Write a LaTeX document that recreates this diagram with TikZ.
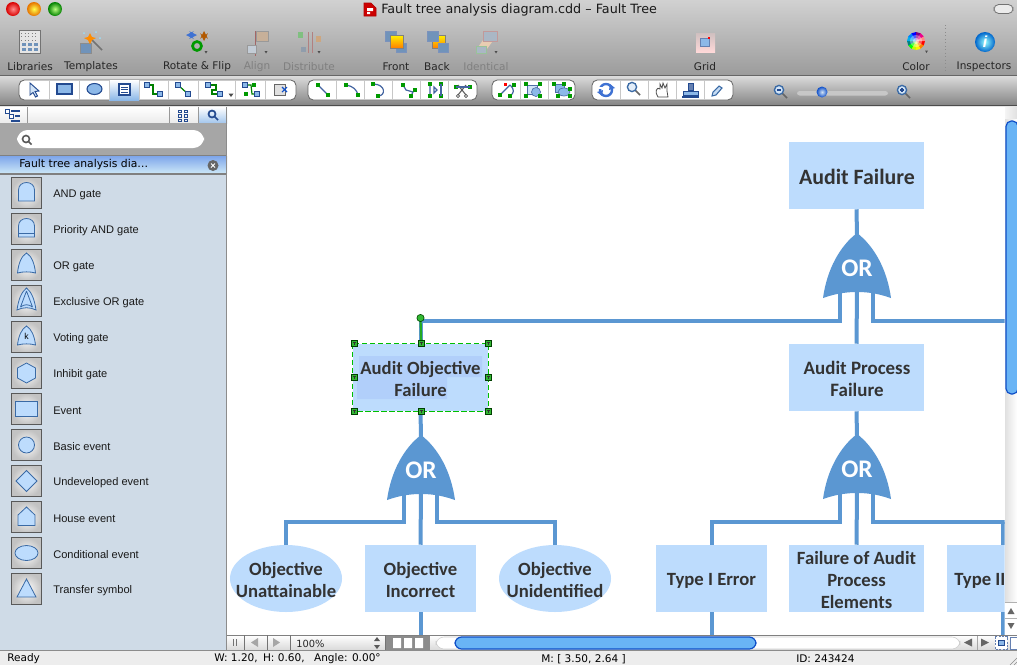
\documentclass[tikz,border=0pt]{standalone}
\usepackage{fontspec}
\usetikzlibrary{shapes.geometric}
\setmainfont{DejaVu Sans}
\newfontfamily\uifont{DejaVu Sans}
\newfontfamily\libfont{Liberation Sans}
\newfontfamily\dgfont{Carlito}
\definecolor{evtblue}{HTML}{BDDCFD}
\definecolor{evtpatch}{HTML}{B1CFFA}
\definecolor{gateblue}{HTML}{5B97D2}
\definecolor{inktext}{HTML}{333333}
\definecolor{icline}{HTML}{3A6AA5}
\definecolor{panelbg}{HTML}{CFDBE7}
\definecolor{navy}{HTML}{234A90}
\definecolor{midblue}{HTML}{8CB8E8}
\definecolor{sgreen}{HTML}{22AA22}
\definecolor{thumbblue}{HTML}{69B4F5}
\definecolor{thumblight}{HTML}{B4E0FF}
\definecolor{thumbdark}{HTML}{0F4FC8}
\tikzset{
  evtbox/.style={fill=evtblue,inner sep=0pt,minimum height=50.25pt},
  widebox/.style={evtbox,minimum width=101.25pt},
  narrowbox/.style={evtbox,minimum width=83.25pt},
  ovalbox/.style={evtbox,ellipse,minimum width=84pt},
  evttext/.style={inner sep=0pt,align=center,text=inktext,font=\dgfont\bfseries\fontsize{14pt}{16.5pt}\selectfont},
  conn/.style={draw=gateblue,line width=3pt},
  orgatefill/.style={fill=gateblue},
  orlabel/.style={text=white,inner sep=0pt,font=\dgfont\bfseries\fontsize{19pt}{19pt}\selectfont},
  toollabel/.style={inner sep=0pt,text=black!85,font=\uifont\fontsize{7.9pt}{9pt}\selectfont},
  greylabel/.style={toollabel,text=black!50},
  statuslabel/.style={inner sep=0pt,anchor=west,text=black,font=\uifont\fontsize{7.9pt}{9pt}\selectfont},
  liblabel/.style={inner sep=0pt,anchor=west,text=black!90,font=\libfont\fontsize{8.3pt}{10pt}\selectfont},
  btn/.style={draw=black!65,line width=0.8pt,inner color=white,outer color=black!24,minimum width=22.5pt,minimum height=23.5pt,inner sep=0pt},
  ic/.style={draw=icline,fill=evtblue,line width=0.6pt},
  icl/.style={draw=icline,line width=0.6pt},
  tbgroup/.style={draw=black!60,line width=0.6pt,fill=white,rounded corners=4pt},
  tbsep/.style={draw=black!22,line width=0.5pt},
  gline/.style={draw=green!50!black,line width=0.9pt},
  bline/.style={draw=navy!85,line width=0.9pt},
  handle/.style={draw=green!25!black,fill=green!65!black!80,line width=0.6pt},
}
\newcommand\orgate[3]{%
  \begin{scope}[shift={(#2,#3)}]
    \fill[orgatefill] (0,0) .. controls (17,13) and (30,36) .. (34,65)
      .. controls (20,60) and (9,59) .. (0,59)
      .. controls (-9,59) and (-20,60) .. (-34,65)
      .. controls (-30,36) and (-17,13) .. (0,0) -- cycle;
    \coordinate (#1t) at (0,2);
    \coordinate (#1l) at (-17,58);
    \coordinate (#1c) at (0,58);
    \coordinate (#1r) at (16,58);
    \node[orlabel] (#1) at (0,35.5) {OR};
  \end{scope}}
\newcommand\libitem[4]{%
  \node[btn] (btn#1) at (26.5,#2-1) {};
  \begin{scope}[shift={(26.5,#2-1)}]#4\end{scope}
  \node[liblabel] (lab#1) at (53,#2+0.8) {#3};}
\newcommand\bsq[2]{\filldraw[fill=midblue,draw=navy,line width=0.5pt] (#1-2.3,#2-2.3) rectangle (#1+2.3,#2+2.3);}
\newcommand\gsq[2]{\fill[green!60!black] (#1-1.8,#2-1.8) rectangle (#1+1.8,#2+1.8);}
\newcommand\selhandle[2]{\filldraw[handle] (#1-3,#2-3) rectangle (#1+3,#2+3);
  \draw[black!80,line width=0.4pt] (#1-1.5,#2-1.3) -- (#1+1.5,#2-1.3) (#1,#2-1.3) -- (#1,#2+1.6);}
\newcommand\magn[3]{\draw[black!60,line width=1.2pt] (#1+3,#2+3) -- (#1+8,#2+8);
  \filldraw[fill=#3,draw=icline,line width=1pt] (#1,#2) circle (4.6);}
\begin{document}
\begin{tikzpicture}[x=0.75pt,y=-0.75pt]
\useasboundingbox (0,0) rectangle (1017,665);
% ---- chrome backgrounds
\shade[top color=black!18,bottom color=black!39] (0,0) rectangle (1017,75);
\fill[black!60] (0,74.5) rectangle (1017,76);
\shade[top color=black!14,bottom color=black!48] (0,76) rectangle (1017,105);
\fill[black!70] (0,105) rectangle (1017,106);
\fill[black!10] (0,106) rectangle (1017,107);
\fill[white] (227,107) rectangle (1005,635);
% ---- window controls
\shade[inner color=red!45,outer color=red!85!black] (13,9) circle (7);
\shade[inner color=yellow!70,outer color=orange!90!black] (34,9) circle (7);
\shade[inner color=green!55!yellow!50,outer color=green!50!black] (55,9) circle (7);
\filldraw[fill=black!8,draw=black!55,rounded corners=3.5pt,line width=0.6pt] (994,4.5) rectangle (1013,13.5);
% title
\filldraw[fill=red!80!black,draw=red!70!black] (364,3) -- (371,3) -- (376,8) -- (376,16) -- (364,16) -- cycle;
\fill[white] (367,8) rectangle (373,11) (367,12) rectangle (370,14);
\node[inner sep=0pt,anchor=west,text=black!90,font=\uifont\fontsize{9.55pt}{11pt}\selectfont] (wintitle) at (381,9.5) {Fault tree analysis diagram.cdd – Fault Tree};
% ---- top toolbar icons
% libraries
\filldraw[fill=black!10,draw=black!55,line width=0.5pt] (19,30) rectangle (40,53);
\foreach \yy in {33,36.5,40}{\draw[black!50,line width=0.7pt,dotted] (21,\yy) -- (38,\yy);}
\foreach \xx in {22,28,34}{\foreach \yy in {43,48}{\fill[midblue!80!black] (\xx,\yy-0.5) rectangle (\xx+4,\yy+3);}}
% templates
\filldraw[fill=midblue!80!black,draw=black!45,line width=0.5pt] (80,43) rectangle (91,53);
\draw[black!55,line width=1.3pt] (92,40) -- (102,50);
\fill[orange!90!yellow] (90,33) -- (92,37) -- (96,38) -- (92,40) -- (90,44) -- (88,40) -- (84,38) -- (88,37) -- cycle;
\fill[cyan!40] (96,32) circle (1) (100,38) circle (1) (84,33) circle (1);
% rotate & flip
\draw[thumbdark!80,line width=1.5pt,<->,>=stealth] (186,35) -- (197,35);
\draw[orange!70!black,line width=1.5pt,<->,>=stealth] (204,31) -- (204,41);
\draw[green!60!black,line width=2pt] (197,46) circle (4.5);
% align
\draw[red!40!black!60,line width=0.5pt] (255.5,31) -- (255.5,56);
\filldraw[fill=orange!45!black!40!white,draw=black!40,line width=0.4pt] (256,31) rectangle (268,41);
\filldraw[fill=midblue!60!black!35!white,draw=black!40,line width=0.4pt] (247,45) rectangle (256,53);
% distribute
\draw[red!40!black!50,line width=0.5pt] (308,32) -- (308,53) (312,32) -- (312,53);
\fill[green!50!black!50!white] (298,32) rectangle (303,38);
\fill[orange!60!black!50!white] (316,36) rectangle (321,42);
\fill[midblue!50!black!60!white] (301,47) rectangle (306,52);
% front
\filldraw[fill=midblue!80!black,draw=navy!60,line width=0.5pt] (385,31) rectangle (396,41);
\filldraw[fill=midblue!80!black,draw=navy!60,line width=0.5pt] (396,43) rectangle (406,52);
\filldraw[top color=yellow!90!orange,bottom color=orange,draw=black!50,line width=0.5pt] (390,35) rectangle (403,48);
% back
\filldraw[top color=yellow!90!orange,bottom color=orange,draw=black!50,line width=0.5pt] (432,35) rectangle (445,48);
\filldraw[fill=midblue!80!black,draw=navy!60,line width=0.5pt] (427,31) rectangle (438,41);
\filldraw[fill=midblue!80!black,draw=navy!60,line width=0.5pt] (438,43) rectangle (448,52);
% identical
\fill[orange!30,opacity=.7] (476,50) -- (486,36) -- (495,38) -- (484,53) -- cycle;
\filldraw[fill=midblue!60!black!50!white,draw=red!40!black!40,line width=0.5pt] (483,31) rectangle (497,41);
\filldraw[fill=midblue!60!black!50!white,draw=green!40!black!40,line width=0.5pt] (476,46) rectangle (486,53);
% grid
\shade[top color=red!25!black!25,bottom color=red!15] (696,33) rectangle (715,52);
\filldraw[fill=midblue,draw=navy!70,line width=0.4pt] (700,38) rectangle (709,46);
\fill[red] (708,37) rectangle (710,39);
% colour wheel
\begin{scope}[shift={(916,41)}]
 \foreach \a/\c in {0/red,30/orange,60/yellow,90/lime,120/green,150/teal,180/cyan,210/blue!50!cyan,240/blue,270/violet,300/magenta,330/pink!70!red}{
   \fill[\c] (0,0) -- (\a:9) -- (\a+31:9) -- cycle;}
 \fill[white,opacity=.35] (0,0) circle (6);
 \fill[white,opacity=.5] (0,0) circle (3);
\end{scope}
\fill[black!70] (925,50.5) -- (928,50.5) -- (926.5,53) -- cycle;
\draw[black!45,dotted,line width=0.6pt] (945,25) -- (945,71);
% inspectors
\shade[inner color=cyan!40,outer color=blue!50!cyan!80!black] (985,42) circle (10);
\node[inner sep=0pt,text=white,font=\libfont\bfseries\itshape\fontsize{12pt}{12pt}\selectfont] (infoi) at (985,42) {i};
% triangles under popups
\foreach \xx in {206,266,319,496}{\fill[black!70] (\xx-1.5,51) -- (\xx+1.5,51) -- (\xx,53.5) -- cycle;}
% labels
\node[toollabel] (tLibraries) at (30,67) {Libraries};
\node[toollabel] (tTemplates) at (91,67) {Templates};
\node[toollabel] (tRotate) at (197,67) {Rotate \& Flip};
\node[greylabel] (tAlign) at (257,67) {Align};
\node[greylabel] (tDistribute) at (309,67) {Distribute};
\node[toollabel] (tFront) at (396,67) {Front};
\node[toollabel] (tBack) at (437,67) {Back};
\node[greylabel] (tIdentical) at (486,67) {Identical};
\node[toollabel] (tGrid) at (705,67) {Grid};
\node[toollabel] (tColor) at (916,67) {Color};
\node[toollabel] (tInspectors) at (984,67) {Inspectors};
% ---- second toolbar
\draw[tbgroup] (19,80) rectangle (296,100);
\shade[top color=white,bottom color=midblue] (109,80) rectangle (139,100);
\foreach \xx in {49,79,109,139,168,198,235,265}{\draw[tbsep] (\xx,80) -- (\xx,100);}
\draw[tbgroup] (308,80) rectangle (477,100);
\foreach \xx in {336,364,392,420,448}{\draw[tbsep] (\xx,80) -- (\xx,100);}
\draw[tbgroup] (492,80) rectangle (575,100);
\foreach \xx in {520,548}{\draw[tbsep] (\xx,80) -- (\xx,100);}
\draw[tbgroup] (592,80) rectangle (733,100);
\foreach \xx in {620,648,676,704}{\draw[tbsep] (\xx,80) -- (\xx,100);}
% group 1 icons
\filldraw[fill=midblue!40,draw=navy,line width=0.7pt] (30,83) -- (30,95) -- (33,92.5) -- (35.5,97) -- (37.5,96) -- (35,91.5) -- (39,91) -- cycle;
\filldraw[fill=midblue,draw=navy,line width=0.8pt] (57,84) rectangle (72,94);
\filldraw[fill=midblue,draw=navy,line width=0.8pt] (94.5,89) ellipse (7.5 and 5.5);
\filldraw[fill=white,draw=navy,line width=0.8pt] (119,84) rectangle (130,95);
\foreach \yy in {87,89.5,92}{\draw[navy,line width=0.5pt] (121,\yy) -- (128,\yy);}
\draw[gline] (148,85) -| (153,94) -- (159,94);\bsq{147}{85}\bsq{160}{94}
\draw[gline] (178,85) -- (188,94);\bsq{178}{85}\bsq{188}{94}
\draw[gline] (208,85) -- (216,85) -- (216,90) -- (212,90) -- (212,94) -- (220,94);\bsq{208}{85}\bsq{220}{94}
\fill[black!70] (228.5,93.5) -- (233.5,93.5) -- (231,97) -- cycle;
\draw[gline] (246,85) -- (251,85) -- (252,94) -- (257,94);\bsq{245}{85}\bsq{257}{94}\gsq{254}{85}\gsq{246}{94}
\filldraw[fill=black!12,draw=black!60,line width=0.6pt] (274,84) rectangle (285,95);
\draw[thumbdark,line width=0.8pt] (282,87) -- (287,92) (287,87) -- (282,92);
% group 2 icons
\draw[bline] (318,85) -- (328,95);\gsq{318}{85}\gsq{328}{95}
\draw[bline] (346,85) .. controls (353,86) and (357,90) .. (358,95);\gsq{346}{85}\gsq{358}{95}
\draw[bline] (373,84) .. controls (386,84) and (386,96) .. (378,96);\gsq{373}{84}\gsq{378}{96}
\draw[bline] (403,85) -- (406,90) -- (413,92) -- (411,96);\gsq{403}{85}\gsq{411}{96}\gsq{415}{90}
\draw[bline] (430,84) -- (430,96) (434,87) -- (437,90) -- (434,93) -- cycle;\gsq{430}{84}\gsq{430}{96}\gsq{441}{84}\gsq{441}{96}\draw[bline] (441,84) -- (441,96);
\draw[black!65,line width=0.8pt] (458,85) -- (466,95) (466,85) -- (458,95);\draw[black!65,line width=0.6pt] (458,96) circle (1.6) (466,96) circle (1.6);\gsq{456}{87}\gsq{470}{87}\draw[bline] (456,87) -- (470,87);
% group 3 icons
\draw[bline] (500,95) -- (510,85);\draw[bline] (510,85) .. controls (515,90) and (514,93) .. (510,96);\gsq{500}{95}\fill[red] (504,83) rectangle (507,86);\gsq{510}{96}\gsq{514}{85}
\filldraw[fill=midblue!40,draw=navy!80,line width=0.5pt] (527,85) rectangle (537,94);\filldraw[fill=midblue,draw=navy!80,line width=0.5pt] (536,92) circle (4.5);
\gsq{526}{84}\gsq{540}{84}\gsq{526}{96}\gsq{540}{96}
\filldraw[fill=midblue,draw=navy!80,line width=0.5pt] (555,84) rectangle (564,92);\filldraw[fill=midblue,draw=navy!80,line width=0.5pt] (564,92) ellipse (6 and 4);
\gsq{554}{84}\gsq{564}{84}\gsq{570}{89}\gsq{570}{96}\gsq{558}{96}
% group 4 icons
\draw[thumbdark!80,line width=1.8pt] (606,90) circle (6);
\fill[white] (598,87) rectangle (614,89);\fill[thumbdark!80] (610,84) -- (615,88) -- (609,90) -- cycle (602,96) -- (597,92) -- (603,90) -- cycle;
\magn{632}{87}{midblue!25}
\draw[black!70,fill=white,line width=0.6pt] (658,97) .. controls (654,92) and (657,86) .. (660,89) -- (660,84) -- (662,88) -- (663,83) -- (665,88) -- (667,84) -- (667,91) -- (668,97) -- cycle;
\filldraw[fill=navy!70,draw=navy,line width=0.5pt] (688,83) rectangle (693,90);
\filldraw[fill=midblue,draw=navy,line width=0.6pt] (683,91) rectangle (698,95);
\draw[navy,line width=1pt] (682,97) -- (699,97);
\draw[icline,fill=midblue!50,line width=0.8pt] (712,96) -- (713,92) -- (719,86) -- (722,88) -- (716,95) -- cycle;
% zoom
\magn{779}{90}{midblue!40}
\draw[navy,line width=0.8pt] (777,90) -- (781,90);
\fill[black!22,rounded corners=2pt] (797,91) rectangle (888,95.5);
\shade[inner color=white!60!midblue,outer color=thumbdark] (822,92) circle (5.5);
\magn{902}{90}{midblue!40}
\draw[navy,line width=0.8pt] (900,90) -- (904,90) (902,88) -- (902,92);
% ---- left panel
\fill[panelbg] (0,175) rectangle (227,651);
\shade[top color=white,bottom color=black!8] (0,107) rectangle (227,123);
\shade[top color=white,bottom color=midblue!80] (198,107) rectangle (227,123);
\draw[black!40,line width=0.5pt] (27,107) -- (27,123) (169,107) -- (169,123) (198,107) -- (198,123);
\filldraw[fill=white,draw=navy,line width=0.5pt] (5,109) rectangle (9,113) (9,114) rectangle (13,118);
\draw[navy,line width=0.8pt] (11,111) -- (20,111) (15,116) -- (20,116) (11,121) -- (20,121);
\foreach \xx in {178,184}{\foreach \yy in {110,114.5,119}{\draw[navy,line width=0.5pt] (\xx,\yy) rectangle (\xx+3,\yy+2.5);}}
\draw[navy,line width=1.3pt] (214,116) -- (218,120);\draw[navy,line width=1.3pt] (212,114) circle (3.5);
\fill[black!35] (0,123) rectangle (227,155.5);
\fill[white,rounded corners=8pt] (17,130) rectangle (204,148);
\draw[black!65,line width=1.3pt] (28,141) -- (31.5,144.5);\draw[black!65,line width=1.2pt] (26,139) circle (3.5);
\fill[black!50] (0,155) rectangle (227,156);
\shade[top color=midblue!90!blue,bottom color=cyan!12!midblue!40] (0,156) rectangle (227,173);
\fill[black!50] (0,173) rectangle (227,175);
\node[inner sep=0pt,anchor=west,text=black,font=\uifont\fontsize{8.1pt}{10pt}\selectfont] (libtitle) at (19,165) {Fault tree analysis dia\dots};
\fill[black!60] (213,165.5) circle (5.5);
\draw[white,line width=0.7pt] (211,163.5) -- (215,167.5) (215,163.5) -- (211,167.5);
\draw[black!45,line width=0.6pt] (226.7,107) -- (226.7,651);
% library items
\libitem{and}{194}{AND gate}{\path[ic] (-8,8) -- (-8,-3) .. controls (-8,-8) and (-4,-10.5) .. (0,-10.5) .. controls (4,-10.5) and (8,-8) .. (8,-3) -- (8,8) -- cycle;}
\libitem{pand}{230}{Priority AND gate}{\path[ic] (-8,8) -- (-8,-3) .. controls (-8,-8) and (-4,-10.5) .. (0,-10.5) .. controls (4,-10.5) and (8,-8) .. (8,-3) -- (8,8) -- cycle;\draw[icl] (-8,4) -- (8,4);}
\libitem{or}{266}{OR gate}{\path[ic] (0,-12) .. controls (5,-9) and (8,-2) .. (9,8) .. controls (4,6.5) and (-4,6.5) .. (-9,8) .. controls (-8,-2) and (-5,-9) .. (0,-12) -- cycle;}
\libitem{xor}{302}{Exclusive OR gate}{\path[ic] (0,-13) .. controls (5,-9) and (8,-2) .. (9.5,9) .. controls (4,6) and (-4,6) .. (-9.5,9) .. controls (-8,-2) and (-5,-9) .. (0,-13) -- cycle;\draw[icl] (0,-10) -- (-6,6) (0,-10) -- (6,6) (-6,6) .. controls (-2,3) and (2,3) .. (6,6);}
\libitem{vote}{338}{Voting gate}{\path[ic] (0,-11) .. controls (5,-8) and (8,-1) .. (9,8) .. controls (4,6.5) and (-4,6.5) .. (-9,8) .. controls (-8,-1) and (-5,-8) .. (0,-11) -- cycle;\node[inner sep=0pt,font=\libfont\fontsize{6.5pt}{7pt}\selectfont] (kmark) at (0,-1) {k};}
\libitem{inh}{374}{Inhibit gate}{\path[ic] (0,-10) -- (9,-5) -- (9,5) -- (0,10) -- (-9,5) -- (-9,-5) -- cycle;}
\libitem{evt}{410}{Event}{\path[ic] (-11,-7.5) rectangle (11,7.5);}
\libitem{basic}{446}{Basic event}{\path[ic] (0,0) circle (8);}
\libitem{undev}{482}{Undeveloped event}{\path[ic] (0,-10.5) -- (10.5,0) -- (0,10.5) -- (-10.5,0) -- cycle;}
\libitem{house}{518}{House event}{\path[ic] (-8.5,8.5) -- (8.5,8.5) -- (8.5,-2) -- (0,-10) -- (-8.5,-2) -- cycle;}
\libitem{cond}{554}{Conditional event}{\path[ic] (0,0) ellipse (11.5 and 7.5);}
\libitem{trans}{590}{Transfer symbol}{\path[ic] (0,-10) -- (9.5,8) -- (-9.5,8) -- cycle;}
% ---- diagram
\begin{scope}
\clip (227,107) rectangle (1004.5,635);
\node[widebox] (af) at (856.5,175.5) {};
\node[evttext,font=\dgfont\bfseries\fontsize{16.4pt}{18pt}\selectfont] (aftext) at (857,176.5) {Audit Failure};
\node[widebox] (apf) at (856.5,377.5) {};
\node[evttext,font=\dgfont\bfseries\fontsize{14.2pt}{16.5pt}\selectfont] (apftext) at (857,378.5) {Audit Process\\Failure};
\node[widebox] (aofbox) at (420.5,377.5) {};
\fill[evtpatch] (359,356) rectangle (482,377) (357,377) rectangle (447,399);
\node[evttext] (aof) at (420.5,378.5) {Audit Objective\\Failure};
\node[ovalbox] (ou) at (286,578.5) {};
\node[evttext] (outext) at (286,579.5) {Objective\\Unattainable};
\node[narrowbox] (oi) at (420.5,578.5) {};
\node[evttext] (oitext) at (420.5,579.5) {Objective\\Incorrect};
\node[ovalbox] (ouid) at (555,578.5) {};
\node[evttext] (ouidtext) at (555,579.5) {Objective\\Unidentified};
\node[narrowbox] (t1) at (711.5,578.5) {};
\node[evttext] (t1text) at (711.5,581) {Type I Error};
\node[widebox] (fa) at (856.5,578.5) {};
\node[evttext] (fatext) at (856.5,580.5) {Failure of Audit\\Process\\Elements};
\node[narrowbox] (t2) at (1002.5,578.5) {};
\node[evttext,anchor=west] (t2text) at (954,581) {Type II};
\orgate{gone}{857}{233}
\orgate{gtwo}{857}{434}
\orgate{gthree}{421}{435}
\coordinate (edgeA) at (1005,321);
\coordinate (edgeB) at (1005,522);
\coordinate (belowoi) at (420.5,635);
\coordinate (belowt1) at (711.5,635);
\coordinate (belowt2) at (1002.5,635);
\draw[conn] (af.south) -- (gonet);
\draw[conn] (gonec) -- (apf.north);
\draw[conn] (gonel) -- ++(0,29.5) -| (aofbox.north);
\draw[conn] (goner) |- (edgeA);
\draw[conn] (apf.south) -- (gtwot);
\draw[conn] (gtwoc) -- (fa.north);
\draw[conn] (gtwol) -- ++(0,29.5) -| (t1.north);
\draw[conn] (gtwor) |- (edgeB);
\draw[conn] (t2.north) -- ++(0,-23);
\draw[conn] (aofbox.south) -- (gthreet);
\draw[conn] (gthreec) -- (oi.north);
\draw[conn] (gthreel) -- ++(0,28.5) -| (ou.north);
\draw[conn] (gthreer) -- ++(0,28.5) -| (ouid.north);
\draw[conn] (oi.south) -- (belowoi);
\draw[conn] (t1.south) -- (belowt1);
\draw[conn] (t2.south) -- (belowt2);
\end{scope}
% selection
\coordinate (ctrlpt) at (420.5,318);
\draw[sgreen,line width=1.6pt] (ctrlpt) -- ++(0.8,25);
\filldraw[fill=green!65!black!80,draw=green!30!black,line width=0.5pt] (ctrlpt) circle (3.6);
\draw[green!75!black,line width=0.8pt,dash pattern=on 4pt off 2pt] (aofbox.north west) rectangle (aofbox.south east);
\selhandle{354.5}{343.5}\selhandle{421}{343.5}\selhandle{488}{343.5}
\selhandle{354.5}{377.5}\selhandle{488}{377.5}
\selhandle{354.5}{411.5}\selhandle{421}{411.5}\selhandle{488}{411.5}
% ---- right scrollbar
\shade[left color=black!12,right color=white] (1005,107) rectangle (1017,635);
\shade[left color=black!4,right color=black!12] (1005,107) rectangle (1017,118);
\shadedraw[left color=thumbblue,middle color=thumblight,right color=thumbblue,draw=thumbdark,line width=0.9pt,rounded corners=4pt] (1006,121) rectangle (1018,394);
\fill[white] (1005,602) rectangle (1017,635);
\draw[black!30,line width=0.4pt] (1005,618.5) -- (1017,618.5) (1005,602) -- (1017,602);
\fill[black!60] (1007.5,614) -- (1014.5,614) -- (1011,608) -- cycle;
\fill[black!60] (1007.5,623) -- (1014.5,623) -- (1011,629) -- cycle;
% ---- bottom bar
\shade[top color=white,bottom color=black!15] (227,635) rectangle (1017,650.5);
\draw[black!50,line width=0.5pt] (227,635) -- (1017,635);
\draw[black!55,line width=0.5pt] (244,635) -- (244,650) (290,635) -- (290,650) (267,635) -- (267,650) (385,635) -- (385,650);
\draw[black!55,line width=0.8pt] (233.5,639) -- (233.5,646) (236.5,639) -- (236.5,646);
\fill[black!35] (251,642.5) -- (258,638) -- (258,647) -- cycle (273,638) -- (280,642.5) -- (273,647) -- cycle;
\node[inner sep=0pt,anchor=west,font=\uifont\fontsize{7.4pt}{9pt}\selectfont,text=black!85] (zoomval) at (296,643.5) {100\%};
\fill[black!65] (374,641) -- (380,641) -- (377,637) -- cycle (374,645) -- (380,645) -- (377,649) -- cycle;
\fill[black!45] (386,636) rectangle (430,650);
\fill[white] (393,638) rectangle (401,648) (404,638) rectangle (412,648) (415,638) rectangle (423,648);
\filldraw[fill=white,draw=black!20,line width=0.4pt,rounded corners=6pt] (436,637) rectangle (960,649);
\shadedraw[top color=thumbblue,middle color=thumblight,bottom color=thumbblue,draw=thumbdark,line width=0.9pt,rounded corners=5pt] (455,637) rectangle (756,649);
\fill[black!60] (964,642.5) -- (972,638.5) -- (972,646.5) -- cycle (981,638.5) -- (989,642.5) -- (981,646.5) -- cycle;
\draw[black!35,line width=0.4pt] (977,636) -- (977,650);
\filldraw[fill=white,draw=navy!70,line width=0.4pt,dash pattern=on 1.5pt off 1pt] (995,636.5) rectangle (1007,649);
\filldraw[fill=midblue,draw=navy,line width=0.5pt] (998.5,640) rectangle (1004,645.5);
\filldraw[fill=white,draw=navy!70,line width=0.5pt] (1010,637) rectangle (1017,649);
% ---- status bar
\fill[black!7] (0,651) rectangle (1017,665);
\fill[black!45] (0,650) rectangle (1017,651);
\node[statuslabel] (stReady) at (7,659) {Ready};
\node[statuslabel] (stSize) at (214,659) {W: 1.20,\enspace H: 0.60,\enspace\hspace{0.6pt} Angle: 0.00°};
\node[statuslabel] (stM) at (541,659) {M: [ 3.50, 2.64 ]};
\node[statuslabel] (stId) at (796,659) {ID: 243424};
\draw[black!45,line width=0.5pt] (1010,665) -- (1017,658) (1014,665) -- (1017,662);
\end{tikzpicture}
\end{document}
